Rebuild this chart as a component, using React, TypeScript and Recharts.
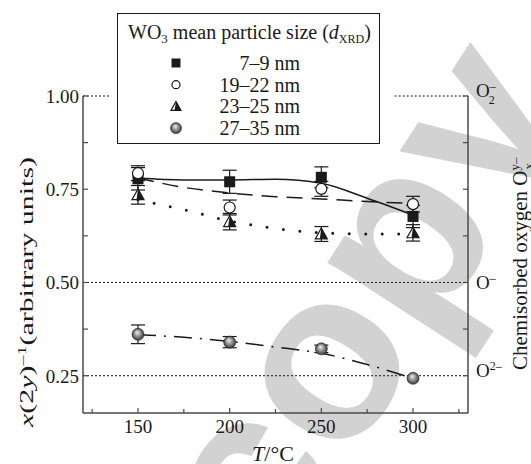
import React from 'react';
import {
  ComposedChart,
  Line,
  Scatter,
  XAxis,
  YAxis,
  ErrorBar,
  ReferenceLine
} from 'recharts';

// measured points, T in °C
const temps = [150, 200, 250, 300];
const size7to9 = [0.778, 0.77, 0.782, 0.677];
const err7to9 = [0.03, 0.031, 0.028, 0.03];
const size19to22 = [0.793, 0.701, 0.751, 0.71];
const err19to22 = [0.02, 0.02, 0.02, 0.021];
const size23to25 = [0.735, 0.663, 0.63, 0.633];
const err23to25 = [0.025, 0.022, 0.02, 0.022];
const size27to35 = [0.361, 0.34, 0.322, 0.243];
const err27to35 = [0.025, 0.015, 0.01, 0];

// guide curves
const fitTemps = [150, 175, 200, 225, 250, 275, 300];
const fit7to9 = [0.78, 0.775, 0.775, 0.777, 0.766, 0.726, 0.681];
const fit19to22 = [0.78, 0.755, 0.74, 0.73, 0.724, 0.717, 0.712];
const fit23to25 = [0.722, 0.695, 0.665, 0.645, 0.633, 0.63, 0.63];
const fit27to35 = [0.36, 0.353, 0.342, 0.327, 0.31, 0.28, 0.243];

const xTicks = [125, 150, 175, 200, 225, 250, 275, 300, 325];
const xLabels = [150, 200, 250, 300];
const yTicks = [0.25, 0.375, 0.5, 0.625, 0.75, 0.875, 1.0];
const yLabels = [0.25, 0.5, 0.75, 1.0];
const oxygenLevels = [1.0, 0.5, 0.25];
const oxygenSub = ['2', '', ''];
const oxygenSup = ['–', '–', '2–'];
const legendRanges = ['7–9 nm', '19–22 nm', '23–25 nm', '27–35 nm'];

const SERIF = '"Liberation Serif", "Times New Roman", serif';
const AXIS = '#4a4a4a';
const INK = '#1a1a1a';

const points = (ys: number[], errs: number[]) => temps.map((x, i) => ({ x, y: ys[i], err: errs[i] }));
const curve = (ys: number[]) => fitTemps.map((x, i) => ({ x, y: ys[i] }));

const SquareMark = ({ cx, cy, s = 11 }: { cx: number; cy: number; s?: number }) => (
  <rect x={cx - s / 2} y={cy - s / 2} width={s} height={s} fill={INK} />
);

const CircleMark = ({ cx, cy, r = 5.5 }: { cx: number; cy: number; r?: number }) => (
  <circle cx={cx} cy={cy} r={r} fill="#fff" stroke={INK} strokeWidth={1.2} />
);

const TriangleMark = ({ cx, cy, w = 12 }: { cx: number; cy: number; w?: number }) => {
  const h = w * 0.9;
  const top = cy - h * 0.55;
  const bot = cy + h * 0.45;
  return (
    <g>
      <polygon points={`${cx},${top} ${cx + w / 2},${bot} ${cx - w / 2},${bot}`} fill="#fff" stroke={INK} strokeWidth={1.2} />
      <polygon points={`${cx},${top} ${cx + w / 2},${bot} ${cx - 1.5},${bot}`} fill={INK} />
    </g>
  );
};

const SphereMark = ({ cx, cy, r = 6 }: { cx: number; cy: number; r?: number }) => (
  <circle cx={cx} cy={cy} r={r} fill="url(#sphereGrad)" stroke="#222" strokeWidth={0.6} />
);

const XTick = (props: any) => {
  const { x, y, payload } = props;
  const major = xLabels.includes(payload.value);
  return (
    <g>
      <line x1={x} x2={x} y1={y} y2={y - (major ? 5 : 4)} stroke={AXIS} strokeWidth={1.2} />
      {major && (
        <text x={x} y={y + 20} textAnchor="middle" fontSize={19} fill={INK} fontFamily={SERIF}>
          {payload.value}
        </text>
      )}
    </g>
  );
};

const LeftTick = (props: any) => {
  const { x, y, payload } = props;
  const major = yLabels.includes(payload.value);
  return (
    <g>
      <line x1={x} x2={x + 5} y1={y} y2={y} stroke={AXIS} strokeWidth={1.2} />
      {major && (
        <text x={x - 4} y={y + 7} textAnchor="end" fontSize={19} fill={INK} fontFamily={SERIF}>
          {payload.value.toFixed(2)}
        </text>
      )}
    </g>
  );
};

const RightTick = (props: any) => {
  const { x, y, payload } = props;
  const idx = oxygenLevels.indexOf(payload.value);
  const sub = idx >= 0 ? oxygenSub[idx] : '';
  const sup = idx >= 0 ? oxygenSup[idx] : '';
  const base = sub || sup.length > 1 ? y + 1 : y + 7;
  return (
    <g>
      <line x1={x} x2={x - 5} y1={y} y2={y} stroke={AXIS} strokeWidth={1.2} />
      {idx >= 0 && (
        <text x={x + 8} y={base} fontSize={19} fill={INK} fontFamily={SERIF}>
          O
          <tspan fontSize={12} dy={-7}>{sup}</tspan>
          {sub && <tspan fontSize={12} dx={-7} dy={14}>{sub}</tspan>}
        </text>
      )}
    </g>
  );
};

const Watermark = () => (
  <svg width={531} height={464} style={{ position: 'absolute', left: 0, top: 0 }}>
    <text
      x={0}
      y={0}
      transform="translate(425 345) rotate(-57)"
      textAnchor="middle"
      fontSize={240}
      fontWeight="bold"
      fontFamily='"Liberation Sans", Arial, sans-serif'
      fill="#d2d2d2"
    >
      copy
    </text>
  </svg>
);

const legendMarks = [
  (cx: number, cy: number) => <SquareMark cx={cx} cy={cy} s={9} />,
  (cx: number, cy: number) => <CircleMark cx={cx} cy={cy} r={4} />,
  (cx: number, cy: number) => <TriangleMark cx={cx} cy={cy} w={10} />,
  (cx: number, cy: number) => <SphereMark cx={cx} cy={cy} r={5.5} />
];

const Legend = () => (
  <svg width={263} height={131} style={{ position: 'absolute', left: 117, top: 13 }}>
    <defs>
      <radialGradient id="sphereGrad" cx="50%" cy="50%" r="55%" fx="42%" fy="32%">
        <stop offset="0%" stopColor="#f2f2f2" />
        <stop offset="45%" stopColor="#9a9a9a" />
        <stop offset="100%" stopColor="#2a2a2a" />
      </radialGradient>
    </defs>
    <rect x={0.5} y={0.5} width={262} height={130} fill="#fff" stroke={INK} strokeWidth={1} />
    <text x={11} y={26} fontSize={20} fill={INK} fontFamily={SERIF}>
      WO<tspan fontSize={13} dy={4}>3</tspan>
      <tspan dy={-4}> mean particle size (</tspan>
      <tspan fontStyle="italic">d</tspan>
      <tspan fontSize={12} dy={4}>XRD</tspan>
      <tspan dy={-4}>)</tspan>
    </text>
    {legendRanges.map((label, i) => {
      const cy = 50 + i * 21.7;
      return (
        <g key={label}>
          {legendMarks[i](59, cy)}
          <text x={183} y={cy + 7} textAnchor="end" fontSize={20} fill={INK} fontFamily={SERIF}>
            {label}
          </text>
        </g>
      );
    })}
  </svg>
);

export default function App() {
  return (
    <div style={{ position: 'fixed', left: 0, top: 0, width: 531, height: 464, background: '#fff', overflow: 'hidden' }}>
      <Watermark />
      <div style={{ position: 'absolute', left: 0, top: 0 }}>
        <ComposedChart width={531} height={464} margin={{ top: 96, right: 0, bottom: 0, left: 0 }}>
          <XAxis
            type="number"
            dataKey="x"
            domain={[120, 330]}
            ticks={xTicks}
            interval={0}
            allowDataOverflow
            height={51}
            tickSize={0}
            tickMargin={0}
            tickLine={false}
            axisLine={{ stroke: AXIS, strokeWidth: 1.5 }}
            tick={XTick}
          />
          <YAxis
            yAxisId="l"
            type="number"
            domain={[0.15, 1.0]}
            ticks={yTicks}
            interval={0}
            allowDataOverflow
            width={83}
            tickSize={0}
            tickMargin={0}
            tickLine={false}
            axisLine={{ stroke: AXIS, strokeWidth: 1.5 }}
            tick={LeftTick}
          />
          <YAxis
            yAxisId="r"
            orientation="right"
            type="number"
            domain={[0.15, 1.0]}
            ticks={yTicks}
            interval={0}
            allowDataOverflow
            width={63}
            tickSize={0}
            tickMargin={0}
            tickLine={false}
            axisLine={{ stroke: AXIS, strokeWidth: 1.5 }}
            tick={RightTick}
          />
          <ReferenceLine yAxisId="l" y={0.5} stroke={INK} strokeDasharray="2 2" />
          <ReferenceLine yAxisId="l" y={0.25} stroke={INK} strokeDasharray="2 2" />
          <ReferenceLine yAxisId="l" segment={[{ x: 120, y: 1 }, { x: 135, y: 1 }]} stroke={INK} strokeDasharray="2 2" />
          <ReferenceLine yAxisId="l" segment={[{ x: 290, y: 1 }, { x: 330, y: 1 }]} stroke={INK} strokeDasharray="2 2" />

          <Line yAxisId="l" data={curve(fit7to9)} dataKey="y" type="monotone" stroke={INK} strokeWidth={1.5} dot={false} activeDot={false} isAnimationActive={false} />
          <Line yAxisId="l" data={curve(fit19to22)} dataKey="y" type="monotone" stroke={INK} strokeWidth={1.5} strokeDasharray="16 9" dot={false} activeDot={false} isAnimationActive={false} />
          <Line yAxisId="l" data={curve(fit23to25)} dataKey="y" type="monotone" stroke={INK} strokeWidth={3} strokeLinecap="round" strokeDasharray="0 16.5" dot={false} activeDot={false} isAnimationActive={false} />
          <Line yAxisId="l" data={curve(fit27to35)} dataKey="y" type="monotone" stroke={INK} strokeWidth={1.5} strokeDasharray="18 8 2 8" dot={false} activeDot={false} isAnimationActive={false} />

          <Scatter yAxisId="l" data={points(size7to9, err7to9)} dataKey="y" isAnimationActive={false} shape={(p: any) => <SquareMark cx={p.cx} cy={p.cy} />}>
            <ErrorBar dataKey="err" direction="y" width={7} stroke={INK} strokeWidth={1.2} />
          </Scatter>
          <Scatter yAxisId="l" data={points(size19to22, err19to22)} dataKey="y" isAnimationActive={false} shape={(p: any) => <CircleMark cx={p.cx} cy={p.cy} />}>
            <ErrorBar dataKey="err" direction="y" width={7} stroke={INK} strokeWidth={1.2} />
          </Scatter>
          <Scatter yAxisId="l" data={points(size23to25, err23to25)} dataKey="y" isAnimationActive={false} shape={(p: any) => <TriangleMark cx={p.cx} cy={p.cy} />}>
            <ErrorBar dataKey="err" direction="y" width={7} stroke={INK} strokeWidth={1.2} />
          </Scatter>
          <Scatter yAxisId="l" data={points(size27to35, err27to35)} dataKey="y" isAnimationActive={false} shape={(p: any) => <SphereMark cx={p.cx} cy={p.cy} />}>
            <ErrorBar dataKey="err" direction="y" width={7} stroke={INK} strokeWidth={1.2} />
          </Scatter>
        </ComposedChart>
      </div>
      <svg width={531} height={464} style={{ position: 'absolute', left: 0, top: 0, pointerEvents: 'none' }}>
        <text
          transform="translate(33 292) rotate(-90)"
          textAnchor="middle"
          fontSize={18}
          fill={INK}
          fontFamily={SERIF}
          textLength={270}
          lengthAdjust="spacingAndGlyphs"
        >
          <tspan fontStyle="italic">x</tspan>(2<tspan fontStyle="italic">y</tspan>)
          <tspan fontSize={12} dy={-7}>–1</tspan>
          <tspan dy={7}>(arbitrary units)</tspan>
        </text>
        <text
          transform="translate(527 370) rotate(-90)"
          fontSize={21}
          fill={INK}
          fontFamily={SERIF}
        >
          Chemisorbed oxygen O
          <tspan fontSize={13} dy={-8}>y–</tspan>
          <tspan fontSize={13} dx={-12} dy={14}>x</tspan>
        </text>
        <text x={273} y={461} textAnchor="middle" fontSize={22} fill={INK} fontFamily={SERIF}>
          <tspan fontStyle="italic">T</tspan>/°C
        </text>
      </svg>
      <Legend />
    </div>
  );
}
